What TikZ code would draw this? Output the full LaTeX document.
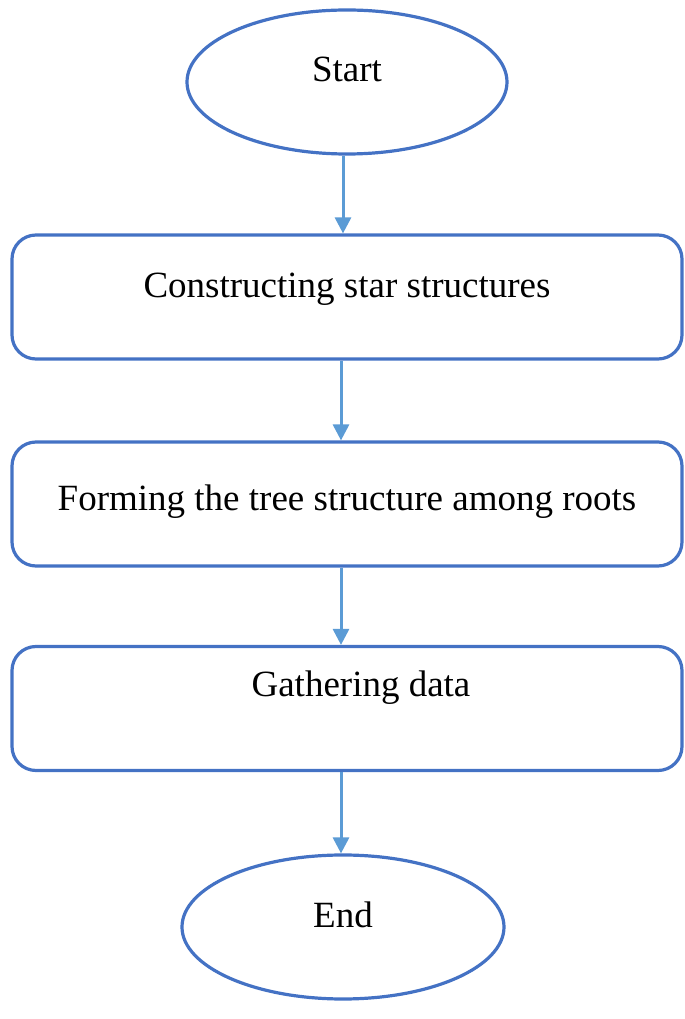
\documentclass[tikz,border=0pt]{standalone}
\usepackage{fontspec}
\setmainfont{Liberation Serif}
\usetikzlibrary{shapes.geometric, arrows.meta, positioning}
\definecolor{bordercolor}{RGB}{68,114,196}
\definecolor{arrowcolor}{RGB}{91,155,213}

\begin{document}
\begin{tikzpicture}[
    x=0.5pt, y=0.5pt,
    terminal/.style={ellipse, draw=bordercolor, line width=1.6pt, inner sep=0pt,
        minimum width=160pt, minimum height=72pt, text height=12pt,
        font=\fontsize{18.5}{22}\selectfont},
    process/.style={rectangle, rounded corners=12pt, draw=bordercolor, line width=1.6pt,
        inner sep=0pt, minimum width=335pt, minimum height=62pt, text height=12pt,
        font=\fontsize{18.5}{22}\selectfont},
    arrow/.style={-{Triangle[width=8pt,length=8pt]}, draw=arrowcolor, fill=arrowcolor, line width=1.5pt}
]
    \useasboundingbox (0,0) rectangle (685,1019);

    % Start / End
    \node[terminal, text depth=12pt] (start) at (347,937) {Start};

    % Steps
    \node[process, text depth=11pt] (construct) at (347,722) {Constructing star structures};
    \node[process, text depth=5pt] (forming) at (347,515) {Forming the tree structure among roots};
    \node[process, text depth=23.5pt] (gather) at (347,310.5) {\hspace{14pt}Gathering data};

    \node[terminal, minimum width=161pt, text depth=11pt] (end) at (343,92) {End};

    % Flow arrows
    \draw[arrow] ([xshift=-2pt]start.south) -- ([xshift=-2pt]construct.north);
    \draw[arrow] ([xshift=-3pt]construct.south) -- ([xshift=-3pt]forming.north);
    \draw[arrow] ([xshift=-3pt]forming.south) -- ([xshift=-3pt]gather.north);
    \draw[arrow] ([xshift=-3pt]gather.south) -- ([xshift=-1pt]end.north);

\end{tikzpicture}
\end{document}
